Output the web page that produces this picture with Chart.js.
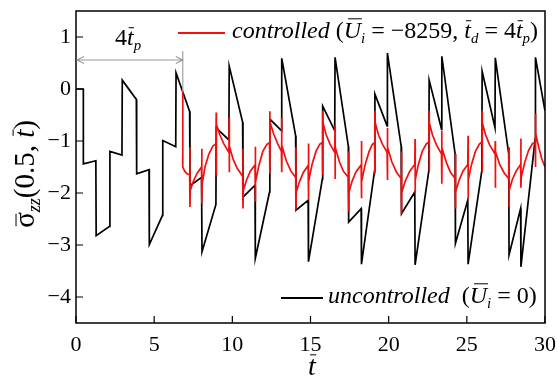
<!DOCTYPE html>
<html>
<head>
<meta charset="utf-8">
<script src="https://cdn.jsdelivr.net/npm/chart.js@4.4.1/dist/chart.umd.min.js"></script>
<style>
  html, body { margin: 0; padding: 0; background: #fff; }
  #box { width: 557px; height: 378px; position: relative; }
</style>
</head>
<body>
<div id="box"><canvas id="c"></canvas></div>
<script>
// axis ticks
const xTicks = [0, 5, 10, 15, 20, 25, 30];
const yTicks = [-4, -3, -2, -1, 0, 1];

// uncontrolled (U_i = 0): time and stress
const blackT = [0, 0.47, 0.47, 1.27, 1.29, 2.15, 2.17, 2.94, 2.96, 3.86, 3.88, 4.67, 4.69, 5.53, 5.55, 6.38, 6.4,
  7.27, 7.29, 8.03, 8.06, 8.95, 8.97, 9.78, 9.8, 10.66, 10.68, 11.45, 11.47, 12.38, 12.4, 13.14, 13.16,
  14.05, 14.07, 14.85, 14.87, 15.76, 15.78, 16.55, 16.57, 17.42, 17.44, 18.24, 18.26, 19.1, 19.12, 19.9, 19.92,
  20.8, 20.82, 21.67, 21.69, 22.57, 22.59, 23.38, 23.4, 24.25, 24.27, 25.06, 25.08, 25.96, 25.98, 26.8, 26.82,
  27.68, 27.7, 28.44, 28.46, 29.37, 29.39, 30];
const blackS = [0, 0, -1.44, -1.38, -2.82, -2.64, -1.2, -1.27, 0.17, -0.2, -1.63, -1.55, -2.99, -2.43, -0.99, -1.11, 0.31,
  -0.43, -1.86, -1.7, -3.13, -2.22, -0.75, -0.98, 0.44, -0.64, -2.08, -1.85, -3.26, -1.98, -0.58, -0.8, 0.59,
  -0.9, -2.33, -2.14, -3.32, -1.73, -0.33, -0.8, 0.61, -1.1, -2.56, -2.3, -3.37, -1.57, -0.1, -0.71, 0.69,
  -1.1, -2.4, -1.98, -3.38, -1.57, 0.17, -0.77, 0.63, -1.25, -2.97, -2.14, -3.37, -1.57, 0.34, -0.74, 0.6,
  -1.25, -3.19, -2.3, -3.42, -0.96, 0.61, -0.42];

// controlled (U_i = -8259, t_d = 4 t_p)
const redT = [6.83, 6.83, 6.95, 7.1, 7.27,
  7.29, 7.29, 7.31, 7.5, 7.75, 8.03,
  8.05, 8.05, 8.07, 8.25, 8.5, 8.75, 8.95,
  8.97, 8.97, 8.99, 9.2, 9.45, 9.78,
  9.8, 9.8, 9.82, 10.05, 10.3, 10.66,
  10.68, 10.68, 10.7, 10.9, 11.15, 11.45,
  11.47, 11.47, 11.49, 11.7, 11.95, 12.2, 12.38,
  12.4, 12.4, 12.42, 12.65, 12.9, 13.14,
  13.16, 13.16, 13.18, 13.45, 13.75, 14.05,
  14.07, 14.07, 14.09, 14.3, 14.55, 14.85,
  14.87, 14.87, 14.89, 15.1, 15.35, 15.6, 15.76,
  15.78, 15.78, 15.8, 16.0, 16.25, 16.55,
  16.57, 16.57, 16.59, 16.85, 17.1, 17.42,
  17.44, 17.44, 17.46, 17.65, 17.9, 18.24,
  18.26, 18.26, 18.28, 18.5, 18.75, 18.95, 19.1,
  19.12, 19.12, 19.14, 19.35, 19.6, 19.9,
  19.92, 19.92, 19.94, 20.2, 20.5, 20.8,
  20.82, 20.82, 20.84, 21.05, 21.35, 21.67,
  21.69, 21.69, 21.71, 21.9, 22.15, 22.4, 22.57,
  22.59, 22.59, 22.61, 22.8, 23.05, 23.38,
  23.4, 23.4, 23.42, 23.7, 23.95, 24.25,
  24.27, 24.27, 24.29, 24.5, 24.75, 25.06,
  25.08, 25.08, 25.1, 25.3, 25.55, 25.8, 25.96,
  25.98, 25.98, 26.0, 26.2, 26.45, 26.8,
  26.82, 26.82, 26.84, 27.1, 27.4, 27.68,
  27.7, 27.7, 27.72, 27.9, 28.15, 28.44,
  28.46, 28.46, 28.48, 28.7, 28.95, 29.2, 29.37,
  29.39, 29.39, 29.41, 29.6, 29.8, 30];
const redS = [-0.06, -1.5, -1.58, -1.63, -1.65,
  -1.12, -2.27, -1.95, -1.78, -1.62, -1.5,
  -1.15, -2.2, -1.82, -1.5, -1.25, -1.1, -1.05,
  -0.45, -1.66, -0.68, -0.88, -1.05, -1.22,
  -0.55, -1.6, -1.1, -1.35, -1.52, -1.68,
  -1.15, -2.3, -1.95, -1.76, -1.58, -1.46,
  -1.11, -2.17, -1.8, -1.47, -1.2, -1.07, -1.03,
  -0.43, -1.63, -0.65, -0.87, -1.05, -1.2,
  -0.55, -1.6, -1.1, -1.38, -1.58, -1.7,
  -1.12, -2.33, -1.98, -1.78, -1.6, -1.47,
  -1.05, -2.14, -1.78, -1.45, -1.2, -1.06, -1.03,
  -0.42, -1.66, -0.65, -0.88, -1.06, -1.22,
  -0.7, -1.73, -1.12, -1.4, -1.58, -1.7,
  -1.2, -2.35, -2.0, -1.78, -1.6, -1.46,
  -1.0, -2.1, -1.78, -1.45, -1.2, -1.07, -1.03,
  -0.42, -1.63, -0.65, -0.88, -1.06, -1.22,
  -0.75, -1.75, -1.12, -1.4, -1.6, -1.72,
  -1.2, -2.4, -2.0, -1.78, -1.58, -1.45,
  -0.96, -2.0, -1.75, -1.45, -1.2, -1.06, -1.02,
  -0.42, -1.57, -0.65, -0.88, -1.07, -1.25,
  -0.8, -1.82, -1.15, -1.42, -1.6, -1.72,
  -1.25, -2.3, -1.98, -1.76, -1.58, -1.45,
  -0.9, -2.1, -1.75, -1.45, -1.2, -1.06, -1.02,
  -0.42, -1.6, -0.65, -0.88, -1.07, -1.25,
  -1.0, -1.9, -1.2, -1.45, -1.62, -1.72,
  -1.12, -2.27, -1.95, -1.75, -1.58, -1.45,
  -0.95, -1.9, -1.7, -1.42, -1.18, -1.05, -1.02,
  -0.48, -1.5, -0.85, -1.12, -1.35, -1.5];

const tControlOn = 6.83; // end of the 4 t_p arrow
const FONT = '"Liberation Serif", "Times New Roman", serif';

function pairs(ts, ss) {
  return ts.map((t, i) => ({ x: t, y: ss[i] }));
}

// draw a run of text pieces (italic, subscript, overbar)
function drawRich(ctx, x, y, runs, size, align) {
  const parts = runs.map(r => {
    const fs = r.sub ? size * 0.62 : size;
    const font = (r.i ? 'italic ' : '') + fs + 'px ' + FONT;
    ctx.font = font;
    return { r: r, font: font, fs: fs, w: ctx.measureText(r.t).width };
  });
  const total = parts.reduce((a, p) => a + p.w, 0);
  let cx = align === 'center' ? x - total / 2 : x;
  ctx.textAlign = 'left';
  ctx.textBaseline = 'alphabetic';
  parts.forEach(p => {
    ctx.font = p.font;
    const yy = p.r.sub ? y + size * 0.22 : y;
    ctx.fillText(p.r.t, cx, yy);
    if (p.r.bar) {
      const by = y - size * (p.r.barH || 0.8);
      const x0 = cx + p.w * (p.r.i ? 0.25 : 0.1);
      const x1 = cx + p.w * (p.r.i ? 1.05 : 0.9);
      ctx.save();
      ctx.lineWidth = 1;
      ctx.beginPath();
      ctx.moveTo(x0, by);
      ctx.lineTo(x1, by);
      ctx.stroke();
      ctx.restore();
    }
    cx += p.w;
  });
  return total;
}

const decor = {
  id: 'decor',
  afterDatasetsDraw(chart) {
    const ctx = chart.ctx;
    const a = chart.chartArea;
    const xs = chart.scales.x, ys = chart.scales.y;
    ctx.save();
    ctx.strokeStyle = '#000';
    ctx.fillStyle = '#000';

    // frame
    ctx.lineWidth = 1.5;
    ctx.strokeRect(a.left, a.top, a.right - a.left, a.bottom - a.top);

    // inner ticks
    ctx.lineWidth = 1.2;
    ctx.beginPath();
    xTicks.forEach(v => {
      const px = xs.getPixelForValue(v);
      ctx.moveTo(px, a.bottom);
      ctx.lineTo(px, a.bottom - 7);
    });
    yTicks.forEach(v => {
      const py = ys.getPixelForValue(v);
      ctx.moveTo(a.left, py);
      ctx.lineTo(a.left + 7, py);
    });
    ctx.stroke();

    // 4 t_p arrow
    const xa = xs.getPixelForValue(0) + 1;
    const xb = xs.getPixelForValue(tControlOn);
    const ya = 60;
    ctx.strokeStyle = '#9a9a9a';
    ctx.lineWidth = 1.1;
    ctx.beginPath();
    ctx.moveTo(xa, ya); ctx.lineTo(xb, ya);
    ctx.moveTo(xa + 7, ya - 3.5); ctx.lineTo(xa, ya); ctx.lineTo(xa + 7, ya + 3.5);
    ctx.moveTo(xb - 7, ya - 3.5); ctx.lineTo(xb, ya); ctx.lineTo(xb - 7, ya + 3.5);
    ctx.moveTo(xb, 51); ctx.lineTo(xb, 92);
    ctx.stroke();
    ctx.strokeStyle = '#000';
    drawRich(ctx, 115, 45, [{ t: '4' }, { t: 't', i: 1, bar: 1, barH: 0.72 }, { t: 'p', i: 1, sub: 1 }], 24);

    // legends
    ctx.lineWidth = 1.8;
    ctx.strokeStyle = '#f01010';
    ctx.beginPath(); ctx.moveTo(178, 33); ctx.lineTo(225, 33); ctx.stroke();
    ctx.strokeStyle = '#000';
    ctx.beginPath(); ctx.moveTo(281, 298); ctx.lineTo(323, 298); ctx.stroke();
    drawRich(ctx, 232, 38, [
      { t: 'controlled', i: 1 }, { t: ' (' }, { t: 'U', i: 1, bar: 1, barH: 0.8 }, { t: 'i', i: 1, sub: 1 },
      { t: ' = −8259, ' }, { t: 't', i: 1, bar: 1, barH: 0.72 }, { t: 'd', i: 1, sub: 1 },
      { t: ' = 4' }, { t: 't', i: 1, bar: 1, barH: 0.72 }, { t: 'p', i: 1, sub: 1 }, { t: ')' }
    ], 24);
    drawRich(ctx, 328, 303, [
      { t: 'uncontrolled', i: 1 }, { t: '  (' }, { t: 'U', i: 1, bar: 1, barH: 0.8 }, { t: 'i', i: 1, sub: 1 },
      { t: ' = 0)' }
    ], 24);

    // axis titles
    drawRich(ctx, 312, 375, [{ t: 't', i: 1, bar: 1, barH: 0.72 }], 28, 'center');
    ctx.translate(34, 174);
    ctx.rotate(-Math.PI / 2);
    drawRich(ctx, 0, 0, [
      { t: 'σ', bar: 1, barH: 0.62 }, { t: 'zz', i: 1, sub: 1 }, { t: '(0.5, ' },
      { t: 't', i: 1, bar: 1, barH: 0.72 }, { t: ')' }
    ], 29, 'center');
    ctx.restore();
  }
};

const ctx = document.getElementById('c').getContext('2d');
new Chart(ctx, {
  type: 'line',
  data: {
    datasets: [
      {
        label: 'controlled',
        data: pairs(redT, redS),
        borderColor: '#f01010',
        borderWidth: 1.7,
        pointRadius: 0,
        tension: 0
      },
      {
        label: 'uncontrolled',
        data: pairs(blackT, blackS),
        borderColor: '#000',
        borderWidth: 1.7,
        pointRadius: 0,
        tension: 0
      }
    ]
  },
  options: {
    responsive: true,
    maintainAspectRatio: false,
    animation: false,
    layout: { padding: { top: 11, right: 12, left: 0, bottom: 0 } },
    plugins: { legend: { display: false }, tooltip: { enabled: false } },
    scales: {
      x: {
        type: 'linear',
        min: 0,
        max: 30,
        grid: { display: false, drawTicks: false },
        border: { display: false },
        ticks: {
          stepSize: 5,
          padding: 9,
          maxRotation: 0,
          autoSkip: false,
          color: '#000',
          font: { family: FONT, size: 22 }
        },
        afterBuildTicks: s => { s.ticks = xTicks.map(v => ({ value: v })); },
        afterFit: s => { s.height = 55; s.paddingLeft = 0; s.paddingRight = 0; }
      },
      y: {
        type: 'linear',
        min: -4.5,
        max: 1.5,
        grid: { display: false, drawTicks: false },
        border: { display: false },
        ticks: {
          padding: 5,
          color: '#000',
          font: { family: FONT, size: 22 },
          callback: v => (v < 0 ? '−' + Math.abs(v) : String(v))
        },
        afterBuildTicks: s => { s.ticks = yTicks.map(v => ({ value: v })); },
        afterFit: s => { s.width = 76; s.paddingTop = 0; s.paddingBottom = 0; }
      }
    }
  },
  plugins: [decor]
});
</script>
</body>
</html>
